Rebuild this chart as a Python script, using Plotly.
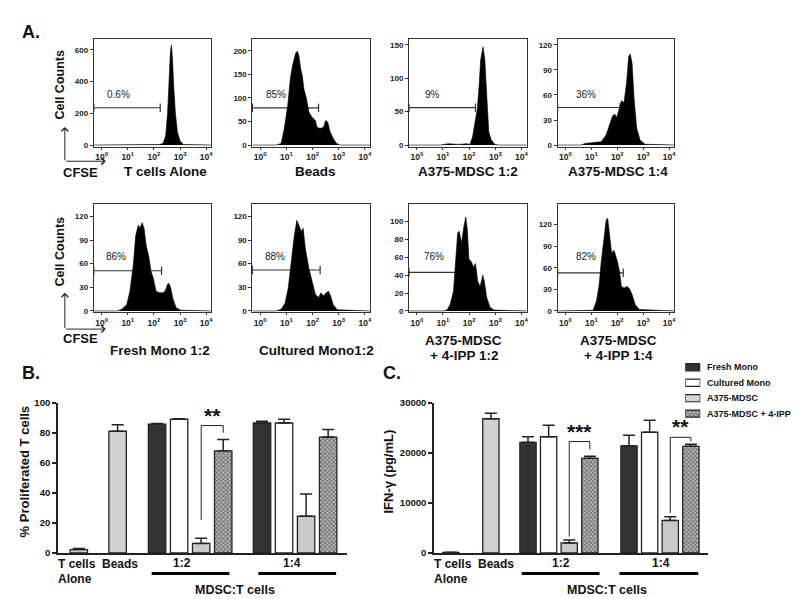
import plotly.graph_objects as go

W, H = 800, 599
FONT = "Liberation Sans, Arial, Helvetica, sans-serif"

# ======================= DATA =======================
# Panel A: CFSE histograms, x = log10(CFSE intensity), y = cell counts
tcells_alone_x = [-0.3, 1.5, 2.2, 2.35, 2.45, 2.52, 2.58, 2.63, 2.67, 2.71, 2.76, 2.82, 2.9, 3.0, 3.12, 4.2]
tcells_alone_y = [0, 1, 3, 10, 60, 200, 420, 590, 630, 540, 360, 200, 80, 25, 3, 0]
beads_x = [-0.3, 0.6, 0.80, 0.92, 1.05, 1.15, 1.23, 1.36, 1.42, 1.48, 1.55, 1.61, 1.67, 1.77, 1.86,
           1.98, 2.11, 2.17, 2.29, 2.42, 2.50, 2.58, 2.67, 2.79, 2.92, 3.05, 4.2]
beads_y = [0, 0, 3.5, 35, 84, 140, 168, 196, 199, 189, 161, 147, 119, 98, 70,
           59, 52, 38, 35, 38, 52, 49, 28, 14, 3.5, 0, 0]
mdsc12_x = [-0.3, 0.9, 1.2, 1.6, 1.9, 2.03, 2.13, 2.22, 2.31, 2.38, 2.44, 2.53, 2.60, 2.68, 2.75, 2.84, 2.97, 3.1, 4.2]
mdsc12_y = [0, 0, 2, 1, 2, 1, 12, 34, 54, 88, 128, 147, 128, 69, 20, 8, 1.5, 0, 0]
mdsc14_x = [-0.3, 0.6, 0.76, 1.13, 1.38, 1.57, 1.69, 1.82, 1.91, 1.98, 2.07, 2.16, 2.26, 2.36, 2.44,
            2.50, 2.57, 2.65, 2.75, 2.88, 3.07, 4.2]
mdsc14_y = [0, 0, 2, 3, 4, 12, 24, 35, 37, 33, 43, 53, 51, 75, 106, 109, 98, 55, 20, 6, 1, 0]
fresh12_x = [-0.3, 0.6, 0.77, 0.96, 1.08, 1.21, 1.30, 1.40, 1.46, 1.55, 1.62, 1.71, 1.81, 1.89, 1.98,
             2.08, 2.21, 2.33, 2.43, 2.52, 2.58, 2.64, 2.73, 2.85, 3.02, 4.2]
fresh12_y = [0, 0, 2, 8, 25, 58, 95, 109, 105, 112, 105, 82, 68, 50, 41, 25, 23, 23, 25, 34, 35, 29, 15, 4, 1, 0]
cult12_x = [-0.3, 0.6, 0.80, 0.95, 1.07, 1.17, 1.30, 1.40, 1.48, 1.57, 1.64, 1.73, 1.86, 1.98, 2.11,
            2.23, 2.32, 2.42, 2.52, 2.61, 2.69, 2.79, 2.94, 4.2]
cult12_y = [0, 0, 2, 10, 29, 58, 95, 115, 107, 101, 105, 78, 54, 37, 21, 17, 23, 19, 23, 25, 19, 8, 1.5, 0]
ipp12_x = [-0.3, 1.0, 1.15, 1.27, 1.40, 1.48, 1.56, 1.62, 1.71, 1.79, 1.87, 1.93, 1.99, 2.08, 2.17,
           2.24, 2.33, 2.42, 2.52, 2.58, 2.67, 2.80, 2.95, 4.2]
ipp12_y = [0, 0, 1, 7, 22, 51, 87, 89, 76, 93, 105, 91, 58, 55, 49, 53, 33, 27, 40, 33, 15, 4, 1, 0]
ipp14_x = [-0.3, 0.9, 1.07, 1.20, 1.30, 1.38, 1.48, 1.57, 1.63, 1.69, 1.78, 1.88, 1.94, 2.01, 2.09,
           2.16, 2.26, 2.38, 2.47, 2.57, 2.69, 2.85, 4.2]
ipp14_y = [0, 0, 1, 14, 36, 68, 99, 126, 129, 108, 81, 84, 77, 68, 54, 34, 32, 34, 31, 23, 9, 2, 0]

hist_titles = [["T cells Alone"], ["Beads"], ["A375-MDSC 1:2"], ["A375-MDSC 1:4"],
               ["Fresh Mono 1:2"], ["Cultured Mono1:2"], ["A375-MDSC", "+ 4-IPP 1:2"], ["A375-MDSC", "+ 4-IPP 1:4"]]
hist_pct = ["0.6%", "85%", "9%", "36%", "86%", "88%", "76%", "82%"]
gate_count = [235, 79, 56, 45, 51, 52, 43, 53]
gate_end = [2.24, 2.23, 2.24, 2.11, 2.29, 2.29, 2.25, 2.23]
hist_yticks = [[0, 200, 400, 600], [0, 50, 100, 150, 200], [0, 50, 100, 150], [0, 30, 60, 90, 120],
               [0, 30, 60, 90, 120], [0, 30, 60, 90, 120], [0, 20, 40, 60, 80, 100], [0, 30, 60, 90, 120]]
hist_ymax = [671, 226, 159.6, 127.6, 135.2, 135.2, 119, 148]
decades = [0, 1, 2, 3, 4]

hist_series = [(tcells_alone_x, tcells_alone_y), (beads_x, beads_y), (mdsc12_x, mdsc12_y), (mdsc14_x, mdsc14_y),
               (fresh12_x, fresh12_y), (cult12_x, cult12_y), (ipp12_x, ipp12_y), (ipp14_x, ipp14_y)]

# Panels B & C: bar charts
series_names = ["Fresh Mono", "Cultured Mono", "A375-MDSC", "A375-MDSC + 4-IPP"]
ratio_labels = ["1:2", "1:4"]

prolif_ctrl = [2.2, 81]
prolif_ctrl_err = [0.7, 4.4]
prolif_12 = [85.8, 89, 6.3, 68]
prolif_12_err = [0.3, 0.3, 3.5, 7.6]
prolif_14 = [86.5, 86.5, 24.4, 77.1]
prolif_14_err = [1.1, 2.5, 14.8, 5.0]
prolif_ticks = [0, 20, 40, 60, 80, 100]

ifn_ctrl = [100, 26800]
ifn_ctrl_err = [50, 1100]
ifn_12 = [22100, 23200, 2000, 18900]
ifn_12_err = [1100, 2300, 600, 400]
ifn_14 = [21400, 24100, 6500, 21300]
ifn_14_err = [2100, 2400, 700, 400]
ifn_ticks = [0, 10000, 20000, 30000]

# significance brackets: (ratio index, left-leg bottom, top, right-leg bottom, label)
prolif_sig = [(0, 22, 84.8, 80, "**")]
ifn_sig = [(0, 3300, 22240, 20670, "***"), (1, 8000, 23090, 22240, "**")]

# ======================= LAYOUT HELPERS =======================
def fx(px):
    return px / W

def fy(py):
    return 1 - py / H

fig = go.Figure()
layout = {}
annotations = []
shapes = []

def ann(text, x, y, size, bold=True, xanchor="center", yanchor="middle", textangle=0, color="#111"):
    annotations.append(dict(text=("<b>%s</b>" % text) if bold else text, x=fx(x), y=fy(y),
                            xref="paper", yref="paper", showarrow=False, xanchor=xanchor, yanchor=yanchor,
                            textangle=textangle, font=dict(family=FONT, size=size, color=color)))

def arrow(x, y, ax, ay):
    annotations.append(dict(x=fx(x), y=fy(y), ax=ax, ay=ay, xref="paper", yref="paper",
                            axref="pixel", ayref="pixel", showarrow=True, arrowhead=4, arrowsize=1.3,
                            arrowwidth=1, arrowcolor="#222", text=""))

# ---------------- Panel A histograms ----------------
box_x = [(86, 204), (245, 363), (402, 520), (551, 668)]
box_y = [(25, 135), (194, 304)]
title_cx = [[158, 308, 461, 612], [152, 309, 457, 612]]
title_y1 = [160, 343]
pct_x = [[97, 257, 416, 567], [96, 256, 415, 567]]
pct_y = [82, 247]
XR = [-0.3, 4.2]

for i, (hx, hy) in enumerate(hist_series):
    r, c = divmod(i, 4)
    n = i + 1
    xa = "xaxis" if n == 1 else "xaxis%d" % n
    ya = "yaxis" if n == 1 else "yaxis%d" % n
    xr = "x" if n == 1 else "x%d" % n
    yr = "y" if n == 1 else "y%d" % n
    (x0, x1), (y0, y1) = box_x[c], box_y[r]
    ymax = hist_ymax[i]
    ymin = -1.5 * ymax / (y1 - y0 - 1.5)
    layout[xa] = dict(domain=[fx(x0), fx(x1)], anchor=yr, range=XR, showgrid=False, zeroline=False,
                      showline=True, mirror=True, linecolor="#333", linewidth=1,
                      tickvals=decades, ticktext=["10<sup>%d</sup>" % d for d in decades],
                      ticks="outside", ticklen=2, tickcolor="#333",
                      tickfont=dict(family=FONT, size=8.5, color="#222", weight="bold"))
    layout[ya] = dict(domain=[fy(y1), fy(y0)], anchor=xr, range=[ymin, ymax], showgrid=False, zeroline=False,
                      showline=True, mirror=True, linecolor="#333", linewidth=1,
                      tickvals=hist_yticks[i], ticks="outside", ticklen=3, tickcolor="#333",
                      tickfont=dict(family=FONT, size=8, color="#222", weight="bold"))
    fig.add_trace(go.Scatter(x=[XR[0], gate_end[i]], y=[gate_count[i]] * 2, mode="lines+markers",
                             line=dict(color="#333", width=1.2), cliponaxis=False,
                             marker=dict(symbol="line-ns-open", size=6, line=dict(color="#333", width=1.2)),
                             xaxis=xr, yaxis=yr, showlegend=False, hoverinfo="skip"))
    fig.add_trace(go.Scatter(x=hx, y=hy, mode="lines", fill="tozeroy", fillcolor="black",
                             line=dict(color="black", width=0.6), xaxis=xr, yaxis=yr,
                             showlegend=False, hoverinfo="skip"))
    ann(hist_pct[i], pct_x[r][c], pct_y[r], 10, bold=False, xanchor="left", color="#222")
    lines = hist_titles[i]
    if len(lines) == 1:
        ann(lines[0], title_cx[r][c], title_y1[r], 13.5)
    else:
        ann(lines[0], title_cx[r][c], title_y1[r] - 10, 13.5)
        ann(lines[1], title_cx[r][c], title_y1[r] + 5, 13.5)

# Cell Counts / CFSE axis indicators
for (vy_top, corner_y, cc_y, cfse_y) in [(115, 150, 72, 161), (284, 321, 242, 331)]:
    ann("Cell Counts", 52, cc_y, 12.5, textangle=-90)
    ann("CFSE", 73, cfse_y, 13)
    arrow(57, vy_top, 0, corner_y - vy_top)
    arrow(98, corner_y, -41, 0)

ann("A.", 12, 18, 18, xanchor="left")
ann("B.", 12, 366, 18, xanchor="left")
ann("C.", 374, 366, 18, xanchor="left")

# ---------------- Panels B & C bar charts ----------------
fills = [dict(color="#333333"), dict(color="white"), dict(color="#c8c8c8"),
         dict(color="#777777", pattern=dict(shape="x", fgcolor="#111", bgcolor="#c0c0c0", size=3, solidity=0.5))]

def bar_panel(n, xdom_px, origin, pitch, ctrl_slots, group_start, ctrl, ctrl_err, g12, g12_err, g14, g14_err,
              yrange, ytick, sig, ytitle, ytitle_x, tick_size, ctrl_label_px, ratio_px, line_px, mdsc_px):
    xa, ya = "xaxis%d" % n, "yaxis%d" % n
    xr, yr = "x%d" % n, "y%d" % n
    px0, px1 = xdom_px
    layout[xa] = dict(domain=[fx(px0), fx(px1)], anchor=yr, range=[(px0 - origin) / pitch, (px1 - origin) / pitch],
                      showgrid=False, zeroline=False, showline=True, linecolor="#222", linewidth=1.5,
                      showticklabels=False, ticks="")
    layout[ya] = dict(domain=[fy(549), fy(396)], anchor=xr, range=yrange, showgrid=False, zeroline=False,
                      showline=True, linecolor="#222", linewidth=1.5, tickvals=ytick,
                      ticktext=[str(t) for t in ytick], ticks="outside",
                      ticklen=4, tickwidth=1.5, tickcolor="#222",
                      tickfont=dict(family=FONT, size=tick_size, color="#111", weight="bold"))
    err_style = dict(type="data", symmetric=False, thickness=1.5, width=6, color="#222")
    fig.add_trace(go.Bar(x=ctrl_slots, y=ctrl, width=0.79, xaxis=xr, yaxis=yr, showlegend=False,
                         marker=dict(color="#d0d0d0", line=dict(color="#222", width=1.3)),
                         error_y=dict(array=ctrl_err, arrayminus=[0] * len(ctrl), **err_style)))
    for k in range(4):
        fig.add_trace(go.Bar(x=[group_start[0] + k, group_start[1] + k], y=[g12[k], g14[k]], width=0.79,
                             xaxis=xr, yaxis=yr, showlegend=False, name=series_names[k],
                             marker=dict(line=dict(color="#222", width=1.3), **fills[k]),
                             error_y=dict(array=[g12_err[k], g14_err[k]], arrayminus=[0, 0], **err_style)))
    for (gi, lb, top, rb, label) in sig:
        xl = group_start[gi] + 2
        xrr = group_start[gi] + 3
        shapes.append(dict(type="path", xref=xr, yref=yr,
                           path="M %f,%f L %f,%f L %f,%f L %f,%f" % (xl, lb, xl, top, xrr, top, xrr, rb),
                           line=dict(color="#222", width=1)))
        annotations.append(dict(text="<b>%s</b>" % label, x=(xl + xrr) / 2, y=top, xref=xr, yref=yr,
                                showarrow=False, yanchor="bottom", yshift=-3,
                                font=dict(family=FONT, size=21, color="#111")))
    ann("T cells", ctrl_label_px[0], 560, 12, xanchor="left")
    ann("Alone", ctrl_label_px[0], 576, 12, xanchor="left")
    ann("Beads", ctrl_label_px[1], 560, 12)
    for gi in range(2):
        ann(ratio_labels[gi], ratio_px[gi], 559, 12)
        shapes.append(dict(type="line", xref="paper", yref="paper", x0=fx(line_px[gi][0]), x1=fx(line_px[gi][1]),
                           y0=fy(570), y1=fy(570), line=dict(color="black", width=3)))
    ann("MDSC:T cells", mdsc_px, 587, 12.5)
    ann(ytitle, ytitle_x, 466, 13, textangle=-90)

bar_panel(9, (50, 340), 71, 22.1, [0, 1.76], [3.55, 8.31], prolif_ctrl, prolif_ctrl_err, prolif_12, prolif_12_err,
          prolif_14, prolif_14_err, [0, 100], prolif_ticks, prolif_sig, "% Proliferated T cells", 16, 9.5,
          (48, 112), (174, 285), [(144, 222), (251, 329)], 228)
bar_panel(10, (427, 702), 444, 20.67, [0, 1.94], [3.74, 8.64], ifn_ctrl, ifn_ctrl_err, ifn_12, ifn_12_err,
          ifn_14, ifn_14_err, [0, 30000], ifn_ticks, ifn_sig, "IFN-γ (pg/mL)", 381, 9.5,
          (425, 489), (554, 655), [(515, 593), (613, 692)], 601)

# ---------------- Legend (swatches as horizontal bars on a hidden axis) ----------------
layout["xaxis11"] = dict(domain=[fx(679), fx(694)], anchor="y11", range=[0, 1], visible=False)
layout["yaxis11"] = dict(domain=[fy(415), fy(352)], anchor="x11", range=[3.5, -0.5], visible=False)
for k in range(4):
    f = dict(fills[k])
    if k == 2:
        f = dict(color="#bdbdbd", pattern=dict(shape="x", fgcolor="#777", bgcolor="#e0e0e0", size=3, solidity=0.3))
    fig.add_trace(go.Bar(x=[1], y=[k], orientation="h", width=0.46, base=0, xaxis="x11", yaxis="y11",
                         showlegend=False, hoverinfo="skip",
                         marker=dict(line=dict(color="#222", width=1.2), **f)))
    ann(series_names[k], 699, 360 + k * 15.67, 9, xanchor="left")

fig.update_layout(width=W, height=H, margin=dict(l=0, r=0, t=0, b=0), paper_bgcolor="white",
                  plot_bgcolor="white", showlegend=False, barmode="overlay", annotations=annotations,
                  shapes=shapes, font=dict(family=FONT), **layout)
fig.write_html("out.html")
